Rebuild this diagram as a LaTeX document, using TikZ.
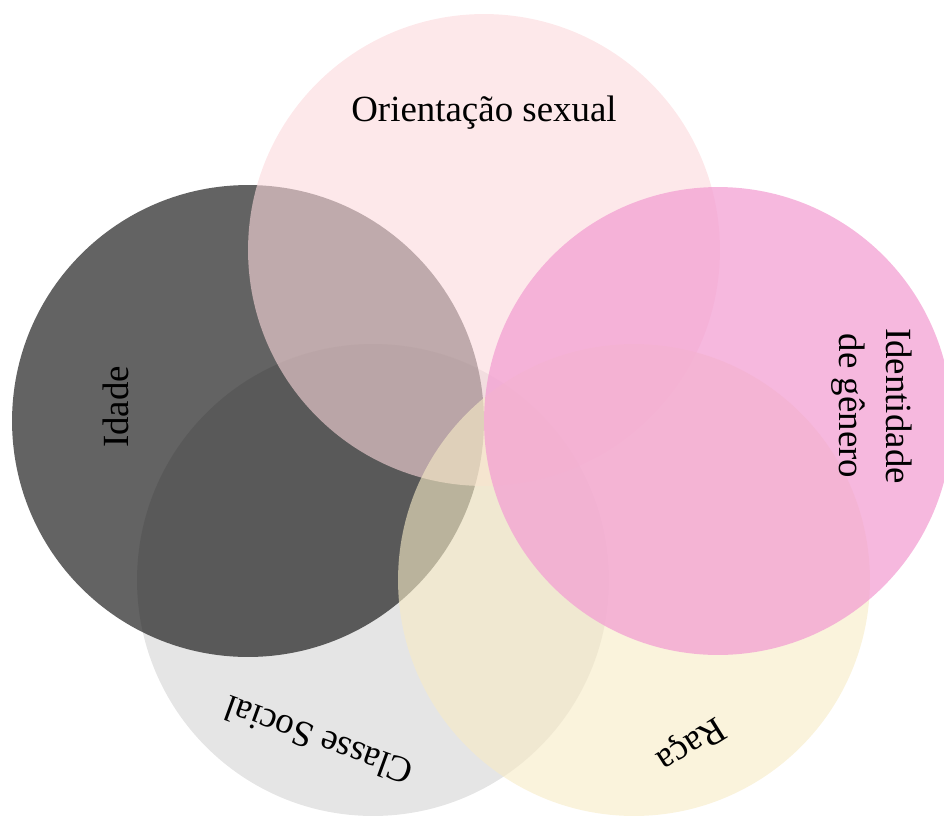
\documentclass[tikz,border=0pt]{standalone}
\usepackage{fontspec}
\setmainfont{Liberation Serif}
\usepackage{tikz}
\definecolor{classe}{RGB}{229,229,229}
\definecolor{idade}{RGB}{15,15,15}
\definecolor{orient}{RGB}{252,217,220}
\definecolor{raca}{RGB}{247,235,198}
\definecolor{genero}{RGB}{243,160,211}
\begin{document}
\begin{tikzpicture}[x=0.02cm,y=-0.02cm,inner sep=0mm,
  disc/.style={circle,minimum size=9.44cm,draw=none},
  lbl/.style={font=\fontsize{21}{27}\selectfont,align=center}]
\clip (0,0) rectangle (944,816);
% circulos
\node (cs) at (373,580) [disc,fill=classe] {};
\node (id) at (248,421) [disc,fill=idade,fill opacity=0.65] {};
\node (os) at (484,250) [disc,fill=orient,fill opacity=0.6] {};
\node (rc) at (634,580) [disc,fill=raca,fill opacity=0.62] {};
\node (ig) at (718,421) [disc,minimum size=9.36cm,fill=genero,fill opacity=0.75] {};
% rotulos
\node (tos) at (484,113) [lbl] {Orientação sexual};
\node (tid) at (116,407) [lbl,rotate=90] {Idade};
\node (tig) at (872,406) [lbl,rotate=-90] {Identidade\\de gênero};
\node (tcs) at (318,741) [lbl,rotate=160] {Classe Social};
\node (trc) at (690,743) [lbl,rotate=212] {Raça};
\end{tikzpicture}
\end{document}
